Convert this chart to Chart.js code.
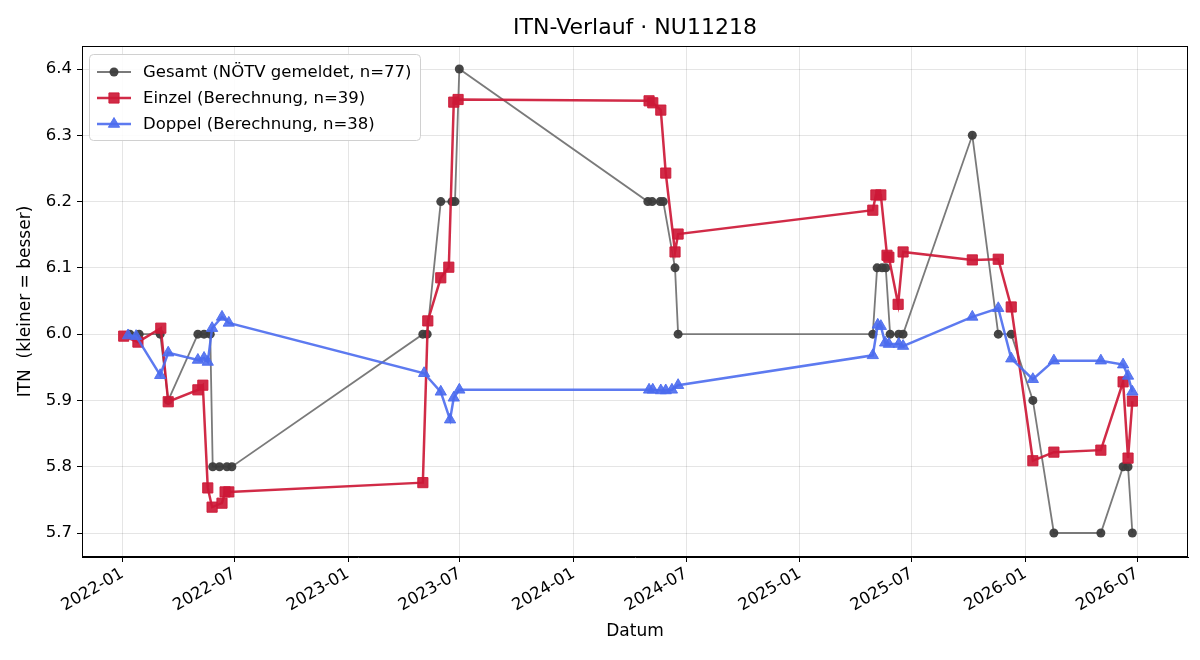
<!DOCTYPE html>
<html>
<head>
<meta charset="utf-8">
<script src="https://cdn.jsdelivr.net/npm/chart.js@4.4.0/dist/chart.umd.min.js"></script>
<style>
  html, body { margin: 0; padding: 0; background: #fff; }
  #wrap { width: 1200px; height: 660px; }
</style>
</head>
<body>
<div id="wrap"><canvas id="c" width="1200" height="660"></canvas></div>
<script>
// dates, values in ITN
const gesamtDates = [
  "2022-01-13", "2022-01-28", "2022-03-03", "2022-03-16", "2022-05-03", "2022-05-13",
  "2022-05-23", "2022-05-27", "2022-06-07", "2022-06-19", "2022-06-27",
  "2023-05-02", "2023-05-09", "2023-05-31", "2023-06-18", "2023-06-23", "2023-06-30",
  "2024-04-30", "2024-05-07", "2024-05-20", "2024-05-25", "2024-06-13", "2024-06-18",
  "2025-04-29", "2025-05-06", "2025-05-14", "2025-05-20", "2025-05-27", "2025-06-10", "2025-06-17",
  "2025-10-07", "2025-11-18", "2025-12-09", "2026-01-13", "2026-02-16", "2026-05-03",
  "2026-06-08", "2026-06-16", "2026-06-23"
];
const gesamtValues = [
  6.0, 6.0, 6.0, 5.9, 6.0, 6.0,
  6.0, 5.8, 5.8, 5.8, 5.8,
  6.0, 6.0, 6.2, 6.2, 6.2, 6.4,
  6.2, 6.2, 6.2, 6.2, 6.1, 6.0,
  6.0, 6.1, 6.1, 6.1, 6.0, 6.0, 6.0,
  6.3, 6.0, 6.0, 5.9, 5.7, 5.7,
  5.8, 5.8, 5.7
];

const einzelDates = [
  "2022-01-03", "2022-01-26", "2022-03-04", "2022-03-16", "2022-05-03", "2022-05-11",
  "2022-05-19", "2022-05-26", "2022-06-11", "2022-06-16", "2022-06-22",
  "2023-05-02", "2023-05-10", "2023-05-31", "2023-06-13", "2023-06-21", "2023-06-28",
  "2024-05-02", "2024-05-08", "2024-05-21", "2024-05-29", "2024-06-13", "2024-06-18",
  "2025-04-29", "2025-05-04", "2025-05-12", "2025-05-22", "2025-05-25", "2025-06-09", "2025-06-17",
  "2025-10-07", "2025-11-18", "2025-12-09", "2026-01-13", "2026-02-16", "2026-05-03",
  "2026-06-08", "2026-06-16", "2026-06-23"
];
const einzelValues = [
  5.997, 5.988, 6.009, 5.898, 5.916, 5.923,
  5.768, 5.739, 5.745, 5.762, 5.762,
  5.776, 6.020, 6.085, 6.101, 6.350, 6.354,
  6.352, 6.349, 6.338, 6.243, 6.124, 6.151,
  6.187, 6.210, 6.210, 6.119, 6.116, 6.045, 6.124,
  6.112, 6.113, 6.041, 5.809, 5.822, 5.825,
  5.928, 5.813, 5.899
];

const doppelDates = [
  "2022-01-10", "2022-01-23", "2022-03-03", "2022-03-16", "2022-05-03", "2022-05-13",
  "2022-05-19", "2022-05-26", "2022-06-11", "2022-06-22",
  "2023-05-04", "2023-05-31", "2023-06-15", "2023-06-21", "2023-06-30",
  "2024-05-02", "2024-05-08", "2024-05-21", "2024-05-29", "2024-06-08", "2024-06-18",
  "2025-04-29", "2025-05-07", "2025-05-12", "2025-05-19", "2025-05-25", "2025-06-10", "2025-06-17",
  "2025-10-07", "2025-11-18", "2025-12-09", "2026-01-13", "2026-02-16", "2026-05-03",
  "2026-06-08", "2026-06-16", "2026-06-23"
];
const doppelValues = [
  5.998, 5.997, 5.938, 5.972, 5.961, 5.964,
  5.958, 6.009, 6.026, 6.017,
  5.941, 5.913, 5.871, 5.904, 5.916,
  5.916, 5.916, 5.915, 5.915, 5.916, 5.923,
  5.968, 6.014, 6.012, 5.987, 5.985, 5.985, 5.982,
  6.026, 6.039, 5.963, 5.932, 5.960, 5.960,
  5.954, 5.937, 5.913
];

const xTickLabels = ["2022-01", "2022-07", "2023-01", "2023-07", "2024-01",
  "2024-07", "2025-01", "2025-07", "2026-01", "2026-07"];
const yTickValues = [5.7, 5.8, 5.9, 6.0, 6.1, 6.2, 6.3, 6.4];

const base = Date.UTC(2022, 0, 1);
const toDay = (s) => (Date.parse(s.length === 7 ? s + "-01" : s) - base) / 86400000;
const toPoints = (dates, vals) => dates.map((d, i) => ({ x: toDay(d), y: vals[i] }));

const FONT = "'DejaVu Sans', sans-serif";
const gesamtLine = "rgba(115,115,115,0.95)";
const gesamtDot = "rgba(60,60,60,0.95)";
const einzelCol = "rgba(205,25,55,0.92)";
const doppelCol = "rgba(75,108,238,0.9)";

const datasets = [
  {
    label: "Gesamt (NÖTV gemeldet, n=77)",
    data: toPoints(gesamtDates, gesamtValues),
    borderColor: gesamtLine, borderWidth: 1.8,
    pointStyle: "circle", pointRadius: 4.5,
    pointBackgroundColor: gesamtDot, pointBorderColor: gesamtDot, pointBorderWidth: 0,
    order: 3
  },
  {
    label: "Einzel (Berechnung, n=39)",
    data: toPoints(einzelDates, einzelValues),
    borderColor: einzelCol, borderWidth: 2.5,
    pointStyle: "rect", pointRadius: 7.2,
    pointBackgroundColor: einzelCol, pointBorderColor: einzelCol, pointBorderWidth: 1,
    order: 2
  },
  {
    label: "Doppel (Berechnung, n=38)",
    data: toPoints(doppelDates, doppelValues),
    borderColor: doppelCol, borderWidth: 2.5,
    pointStyle: "triangle", pointRadius: 6.5,
    pointBackgroundColor: doppelCol, pointBorderColor: doppelCol, pointBorderWidth: 1,
    order: 1
  }
];

// matplotlib-like frame, title over the axes, legend inside the plot
const framePlugin = {
  id: "frame",
  afterDraw(chart) {
    const { ctx, chartArea: a } = chart;
    ctx.save();
    ctx.strokeStyle = "#000";
    ctx.lineWidth = 1;
    ctx.strokeRect(a.left + 0.5, a.top + 0.5, a.right - a.left - 1, a.bottom - a.top - 1);

    ctx.fillStyle = "#000";
    ctx.font = "22px " + FONT;
    ctx.textAlign = "center";
    ctx.textBaseline = "middle";
    ctx.fillText("ITN-Verlauf · NU11218", (a.left + a.right) / 2, 28);

    const bx = a.left + 7, by = a.top + 8, bw = 331, bh = 86;
    ctx.fillStyle = "rgba(255,255,255,0.85)";
    ctx.strokeStyle = "#d0d0d0";
    ctx.lineWidth = 1;
    ctx.beginPath();
    ctx.roundRect(bx + 0.5, by + 0.5, bw, bh, 4);
    ctx.fill();
    ctx.stroke();

    ctx.font = "16.5px " + FONT;
    ctx.textAlign = "left";
    chart.data.datasets.forEach((ds, i) => {
      const y = by + 18 + i * 26;
      ctx.strokeStyle = ds.borderColor;
      ctx.lineWidth = ds.borderWidth;
      ctx.beginPath();
      ctx.moveTo(bx + 8, y);
      ctx.lineTo(bx + 42, y);
      ctx.stroke();
      ctx.fillStyle = ds.pointBackgroundColor;
      ctx.strokeStyle = ds.pointBorderColor;
      ctx.lineWidth = ds.pointBorderWidth;
      Chart.helpers.drawPoint(ctx, { pointStyle: ds.pointStyle, radius: ds.pointRadius, borderWidth: ds.pointBorderWidth }, bx + 25, y);
      ctx.fillStyle = "#000";
      ctx.fillText(ds.label, bx + 54, y + 1);
    });
    ctx.restore();
  }
};

new Chart(document.getElementById("c"), {
  type: "line",
  data: { datasets },
  options: {
    responsive: false,
    animation: false,
    layout: { padding: { left: 0, right: 12, top: 46, bottom: 0 } },
    elements: { line: { tension: 0, fill: false } },
    plugins: {
      legend: { display: false },
      tooltip: { enabled: false },
      title: { display: false }
    },
    scales: {
      x: {
        type: "linear",
        min: -65.5,
        max: 1724,
        afterFit(scale) { scale.height = 103; },
        afterBuildTicks(scale) {
          scale.ticks = xTickLabels.map((l) => ({ value: toDay(l) }));
        },
        ticks: {
          autoSkip: false,
          minRotation: 30,
          maxRotation: 30,
          color: "#000",
          font: { family: FONT, size: 16.5 },
          padding: 2,
          callback: (v) => xTickLabels.find((l) => toDay(l) === v) || ""
        },
        grid: { color: "rgba(0,0,0,0.1)", tickColor: "#000", tickLength: 5, lineWidth: 1 },
        border: { color: "#000" },
        title: {
          display: true, text: "Datum", color: "#000",
          font: { family: FONT, size: 17 }, padding: { top: 4, bottom: 18 }
        }
      },
      y: {
        min: 5.6638,
        max: 6.4347,
        afterFit(scale) { scale.width = 82; },
        afterBuildTicks(scale) {
          scale.ticks = yTickValues.map((v) => ({ value: v }));
        },
        ticks: {
          color: "#000",
          font: { family: FONT, size: 16.5 },
          padding: 5,
          callback: (v) => v.toFixed(1)
        },
        grid: { color: "rgba(0,0,0,0.1)", tickColor: "#000", tickLength: 5, lineWidth: 1 },
        border: { color: "#000" },
        title: {
          display: true, text: "ITN  (kleiner = besser)", color: "#000",
          font: { family: FONT, size: 17 }, padding: { top: 15, bottom: 4 }
        }
      }
    }
  },
  plugins: [framePlugin]
});
</script>
</body>
</html>
